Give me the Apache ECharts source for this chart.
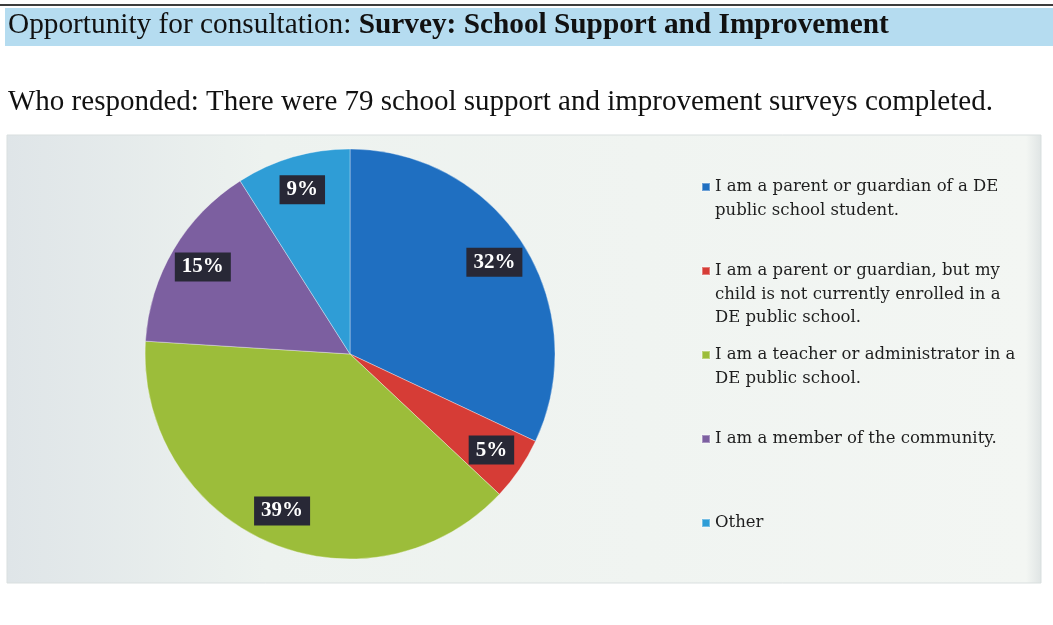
<!DOCTYPE html>
<html>
<head>
<meta charset="utf-8">
<script src="https://cdn.jsdelivr.net/npm/echarts@6/dist/echarts.min.js"></script>
<style>
  html, body { margin: 0; padding: 0; background: #ffffff; }
  #chart { width: 1053px; height: 625px; }
</style>
</head>
<body>
<div id="chart"></div>
<script>
// Survey respondents by group (percent of 79 completed surveys)
const categories = [
  'I am a parent or guardian of a DE\npublic school student.',
  'I am a parent or guardian, but my\nchild is not currently enrolled in a\nDE public school.',
  'I am a teacher or administrator in a\nDE public school.',
  'I am a member of the community.',
  'Other'
];
const percentValues = [32, 5, 39, 15, 9];
const sliceColors = ['#1f6fc1', '#d63c36', '#9cbd3a', '#7c5fa0', '#2f9dd6'];

const headingRegular = 'Opportunity for consultation: ';
const headingBold = 'Survey: School Support and Improvement';
const subHeading = 'Who responded: There were 79 school support and improvement surveys completed.';

const pieCenter = [350, 354];
const pieRadius = 205;
const legendLineHeight = 23.5;
const legendFirstRow = 187;
const legendRowStep = 84;

const chart = echarts.init(document.getElementById('chart'), null, { renderer: 'canvas' });

const pieData = categories.map((name, i) => ({
  name: name,
  value: percentValues[i],
  itemStyle: { color: sliceColors[i] }
}));

// One legend block per entry so every entry's first line sits on an even row grid;
// blank lines ahead of the text keep the swatch level with the first line.
const legends = categories.map((name, i) => {
  const lines = name.split('\n').length;
  const blockHeight = (2 * lines - 1) * legendLineHeight;
  return {
    orient: 'vertical',
    left: 701,
    top: legendFirstRow + i * legendRowStep - blockHeight / 2,
    padding: 0,
    icon: 'rect',
    itemWidth: 8,
    itemHeight: 8,
    selectedMode: false,
    data: [name],
    formatter: n => '\n'.repeat(lines - 1) + n,
    textStyle: {
      fontFamily: 'DejaVu Serif',
      fontSize: 16.5,
      color: '#1e1e1e',
      lineHeight: legendLineHeight
    }
  };
});

chart.setOption({
  animation: false,
  backgroundColor: '#ffffff',
  graphic: [
    // rule above the heading band
    { type: 'rect', shape: { x: 0, y: 4, width: 1053, height: 2 }, style: { fill: '#3d3d3d' }, z: -10 },
    // heading band
    { type: 'rect', shape: { x: 5, y: 8, width: 1048, height: 38 }, style: { fill: '#b5dcf0' }, z: -10 },
    // chart panel
    {
      type: 'rect', shape: { x: 7, y: 135, width: 1034, height: 448 },
      style: {
        fill: new echarts.graphic.LinearGradient(0, 0, 1, 0, [
          { offset: 0, color: '#dfe5e8' },
          { offset: 0.25, color: '#edf2ef' },
          { offset: 0.985, color: '#f3f6f3' },
          { offset: 1, color: '#dfe4e4' }
        ]),
        stroke: '#d9dfdf', lineWidth: 1
      },
      z: -10
    }
  ],
  title: [
    {
      left: 8, top: 11, padding: 0,
      text: '{r|' + headingRegular + '}{b|' + headingBold + '}',
      textStyle: {
        rich: {
          r: { fontFamily: 'Liberation Serif', fontSize: 29.3, fontWeight: 'normal', color: '#111111' },
          b: { fontFamily: 'Liberation Serif', fontSize: 29.3, fontWeight: 'bold', color: '#111111' }
        }
      }
    },
    {
      left: 8, top: 88, padding: 0,
      text: subHeading,
      textStyle: { fontFamily: 'Liberation Serif', fontSize: 29, fontWeight: 'normal', color: '#111111' }
    }
  ],
  legend: legends,
  series: [
    {
      type: 'pie',
      center: pieCenter,
      radius: [0, pieRadius],
      startAngle: 90,
      clockwise: true,
      silent: true,
      label: { show: false },
      labelLine: { show: false },
      itemStyle: { borderColor: 'rgba(255,255,255,0.35)', borderWidth: 1 },
      data: pieData
    },
    {
      // percentage tags placed toward the rim of each slice
      type: 'pie',
      center: pieCenter,
      radius: [131, pieRadius],
      startAngle: 90,
      clockwise: true,
      silent: true,
      legendHoverLink: false,
      itemStyle: { color: 'rgba(0,0,0,0)' },
      labelLine: { show: false },
      label: {
        show: true,
        position: 'inside',
        formatter: p => p.value + '%',
        fontFamily: 'Liberation Serif',
        fontWeight: 'bold',
        fontSize: 21,
        color: '#ffffff',
        backgroundColor: '#282836',
        padding: [5, 7, 3, 7]
      },
      data: pieData.map(d => ({ name: d.name, value: d.value, itemStyle: { color: 'rgba(0,0,0,0)' } }))
    }
  ]
});
</script>
</body>
</html>
